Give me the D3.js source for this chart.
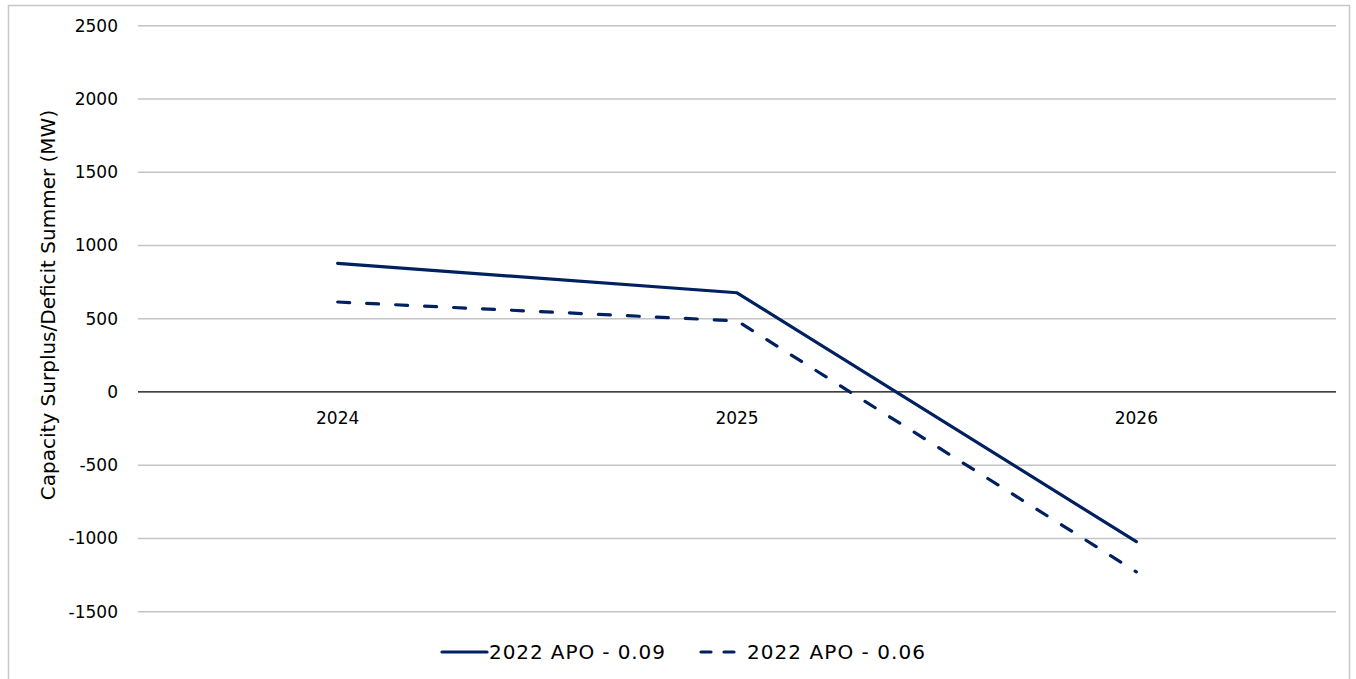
<!DOCTYPE html>
<html><head><meta charset="utf-8">
<script src="https://cdn.jsdelivr.net/npm/d3@7"></script>
<style>body{margin:0;background:#fff;} svg{display:block;}</style>
</head><body>
<svg id="c" width="1356" height="679"></svg>
<script>
const categories = ["2024", "2025", "2026"];
const apo009 = [878, 677, -1022];
const apo006 = [614, 485, -1228];
const seriesNames = ["2022 APO - 0.09", "2022 APO - 0.06"];
const yTicks = [-1500, -1000, -500, 0, 500, 1000, 1500, 2000, 2500];

const svg = d3.select("#c");
const font = "DejaVu Sans, sans-serif";
const navy = "#002060";

svg.append("rect").attr("x", 8.5).attr("y", 5.5).attr("width", 1341).attr("height", 700)
  .attr("fill", "#fff").attr("stroke", "#c8c8c8").attr("stroke-width", 1.5);

const x = d3.scaleBand().domain(categories).range([138, 1336]);
const y = d3.scaleLinear().domain([-1500, 2500]).range([611.7, 25.7]);

// gridlines
svg.append("g").selectAll("line").data(yTicks.filter(d => d !== 0)).join("line")
  .attr("x1", 138).attr("x2", 1336).attr("y1", d => y(d)).attr("y2", d => y(d))
  .attr("stroke", "#c4c4c4").attr("stroke-width", 1.5);

// y labels
const yAxis = d3.axisLeft(y).tickValues(yTicks).tickSize(0).tickPadding(20).tickFormat(d => String(d));
const ga = svg.append("g").attr("transform", "translate(138,0)").call(yAxis);
ga.select(".domain").remove();
ga.selectAll("text").attr("font-family", font).attr("font-size", 17).attr("fill", "#000");

// zero line
svg.append("line").attr("x1", 138).attr("x2", 1336).attr("y1", y(0)).attr("y2", y(0))
  .attr("stroke", "#000").attr("stroke-width", 1.2);

// x labels
const xAxis = d3.axisBottom(x).tickSize(0).tickPadding(20);
const gx = svg.append("g").attr("transform", `translate(0,${y(0)})`).call(xAxis);
gx.select(".domain").remove();
gx.selectAll("text").attr("font-family", font).attr("font-size", 17).attr("fill", "#000");

// y title
svg.append("text").attr("transform", `translate(55,305) rotate(-90)`)
  .attr("text-anchor", "middle").attr("font-family", font).attr("font-size", 20)
  .attr("fill", "#000").text("Capacity Surplus/Deficit Summer (MW)");

const line = d3.line().x((d, i) => x(categories[i]) + x.bandwidth() / 2).y(d => y(d));
svg.append("path").datum(apo009).attr("d", line).attr("fill", "none")
  .attr("stroke", navy).attr("stroke-width", 3.2).attr("stroke-linejoin", "round").attr("stroke-linecap", "round");
svg.append("path").datum(apo006).attr("d", line).attr("fill", "none")
  .attr("stroke", navy).attr("stroke-width", 3.2).attr("stroke-dasharray", "12,17").attr("stroke-linecap", "round");

// legend
const lg = svg.append("g");
const ly = 652;
lg.append("line").attr("x1", 442).attr("x2", 487).attr("y1", ly).attr("y2", ly)
  .attr("stroke", navy).attr("stroke-width", 3.2).attr("stroke-linecap", "round");
lg.append("text").attr("x", 489).attr("y", ly + 7).attr("font-family", font).attr("font-size", 20)
  .attr("textLength", 176).attr("fill", "#000").text(seriesNames[0]);
lg.append("line").attr("x1", 701).attr("x2", 745).attr("y1", ly).attr("y2", ly)
  .attr("stroke", navy).attr("stroke-width", 3.2).attr("stroke-dasharray", "10,13").attr("stroke-linecap", "round");
lg.append("text").attr("x", 747).attr("y", ly + 7).attr("font-family", font).attr("font-size", 20)
  .attr("textLength", 178).attr("fill", "#000").text(seriesNames[1]);
</script>
</body></html>
